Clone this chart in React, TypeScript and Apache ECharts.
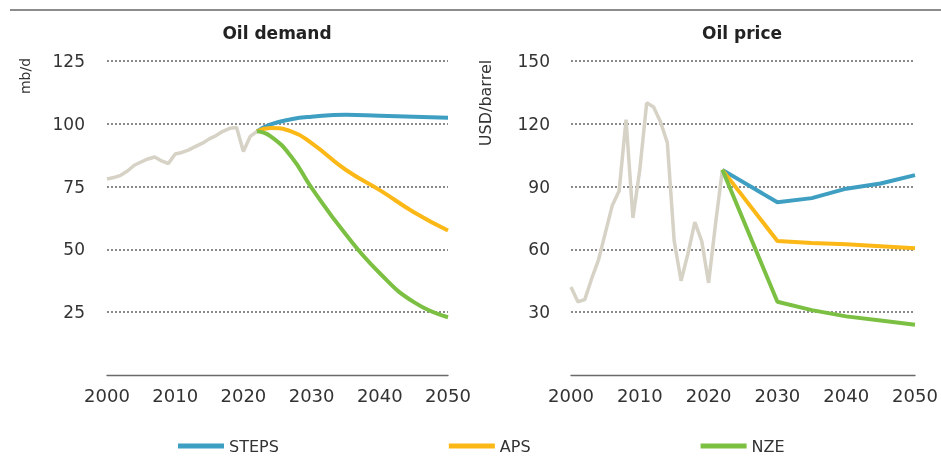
import React, { useEffect, useRef } from "react";
import * as echarts from "echarts";

const histYears = [2000, 2001, 2002, 2003, 2004, 2005, 2006, 2007, 2008, 2009, 2010, 2011, 2012, 2013, 2014, 2015, 2016, 2017, 2018, 2019, 2020, 2021, 2022];
const demandHist = [78, 78.6, 79.5, 81.2, 83.5, 84.8, 86, 86.8, 85.2, 84.2, 88, 88.6, 89.6, 91, 92.3, 94, 95.3, 97, 98.2, 98.5, 89, 95, 97];
const priceHist = [42, 35, 36, 46, 55, 68, 81, 88, 122, 75, 98, 130, 128, 121, 111, 64, 45, 58, 73, 64, 44, 72, 98];

const demandYears = [2022, 2024, 2027, 2030, 2035, 2040, 2045, 2050];
const demandSteps = [97, 99.8, 101.8, 102.8, 103.6, 103.2, 102.8, 102.4];
const demandAps = [97, 98.3, 97, 92.3, 81.7, 73.6, 64.8, 57.5];
const demandNze = [97, 95, 87, 74.5, 56, 40.5, 29, 23];

const priceYears = [2022, 2030, 2035, 2040, 2045, 2050];
const priceSteps = [98, 82.5, 84.5, 89, 91.5, 95.5];
const priceAps = [98, 64, 63, 62.5, 61.5, 60.5];
const priceNze = [98, 35, 31, 28, 26, 24];

const scenarioNames = ["STEPS", "APS", "NZE"];
const xTicks = { min: 2000, max: 2050, interval: 10 };
const demandAxis = { min: 0, max: 125, interval: 25 };
const priceAxis = { min: 0, max: 150, interval: 30 };

const COLORS = { STEPS: "#3f9fc2", APS: "#fbb817", NZE: "#7cc043", hist: "#d6d2c5" };
const FONT = "DejaVu Sans";
const TEXT = "#333333";
const GRID_DOT = "#8a8a8a";

const pairs = (xs: number[], ys: number[]) => xs.map((x, i) => [x, ys[i]]);

export default function App() {
  const ref = useRef<HTMLDivElement>(null);
  useEffect(() => {
    if (!ref.current) return;
    const chart = echarts.init(ref.current, undefined, { renderer: "svg" });

    const xAxisBase = (gridIndex: number) => ({
      type: "value",
      gridIndex,
      min: xTicks.min,
      max: xTicks.max,
      interval: xTicks.interval,
      axisLine: { show: true, lineStyle: { color: "#6a6a6a", width: 1.4 } },
      axisTick: { show: false },
      splitLine: { show: false },
      axisLabel: { color: TEXT, fontSize: 18, fontFamily: FONT, margin: 11, formatter: (v: number) => String(v) },
    });
    const yAxisBase = (gridIndex: number, ax: { min: number; max: number; interval: number }, margin: number) => ({
      type: "value",
      gridIndex,
      min: ax.min,
      max: ax.max,
      interval: ax.interval,
      axisLine: { show: false },
      axisTick: { show: false },
      splitLine: {
        show: true,
        lineStyle: { color: ["rgba(0,0,0,0)", GRID_DOT, GRID_DOT, GRID_DOT, GRID_DOT, GRID_DOT], width: 2, type: [2, 2] },
      },
      axisLabel: { color: TEXT, fontSize: 17, fontFamily: FONT, margin, showMinLabel: false },
    });

    const line = (name: string, data: number[][], idx: number, smooth: boolean, color: string, width: number) => ({
      name,
      type: "line",
      xAxisIndex: idx,
      yAxisIndex: idx,
      data,
      smooth,
      showSymbol: false,
      symbol: "none",
      lineStyle: { color, width },
      itemStyle: { color },
      z: name === "Historical" ? 1 : 2,
    });

    const option = {
      animation: false,
      textStyle: { fontFamily: FONT },
      grid: [
        { left: 107, right: 493, top: 61, bottom: 82 },
        { left: 571, right: 26, top: 61, bottom: 82 },
      ],
      xAxis: [xAxisBase(0), xAxisBase(1)],
      yAxis: [yAxisBase(0, demandAxis, 22), yAxisBase(1, priceAxis, 21)],
      legend: {
        data: scenarioNames.map((n) => ({ name: n, icon: "rect" })),
        left: 178,
        top: 438,
        padding: 0,
        itemGap: 170,
        itemWidth: 46,
        itemHeight: 5,
        textStyle: { color: TEXT, fontSize: 16, fontFamily: FONT },
      },
      graphic: [
        { type: "line", shape: { x1: 10, y1: 10, x2: 941, y2: 10 }, style: { stroke: "#8c8c8c", lineWidth: 2 } },
        { type: "text", x: 277, y: 33, style: { text: "Oil demand", fontSize: 17, fontWeight: "bold", fontFamily: FONT, fill: "#222", align: "center", verticalAlign: "middle" } },
        { type: "text", x: 742, y: 33, style: { text: "Oil price", fontSize: 17, fontWeight: "bold", fontFamily: FONT, fill: "#222", align: "center", verticalAlign: "middle" } },
        { type: "text", x: 25, y: 76, rotation: Math.PI / 2, style: { text: "mb/d", fontSize: 14, fontFamily: FONT, fill: TEXT, align: "center", verticalAlign: "middle" } },
        { type: "text", x: 485, y: 103, rotation: Math.PI / 2, style: { text: "USD/barrel", fontSize: 16, fontFamily: FONT, fill: TEXT, align: "center", verticalAlign: "middle" } },
      ],
      series: [
        line("Historical", pairs(histYears, demandHist), 0, false, COLORS.hist, 3.5),
        line("STEPS", pairs(demandYears, demandSteps), 0, true, COLORS.STEPS, 4),
        line("APS", pairs(demandYears, demandAps), 0, true, COLORS.APS, 4),
        line("NZE", pairs(demandYears, demandNze), 0, true, COLORS.NZE, 4),
        line("Historical", pairs(histYears, priceHist), 1, false, COLORS.hist, 3.5),
        line("STEPS", pairs(priceYears, priceSteps), 1, false, COLORS.STEPS, 4),
        line("APS", pairs(priceYears, priceAps), 1, false, COLORS.APS, 4),
        line("NZE", pairs(priceYears, priceNze), 1, false, COLORS.NZE, 4),
      ],
    };
    chart.setOption(option as any);
    return () => chart.dispose();
  }, []);
  return <div ref={ref} style={{ position: "fixed", left: 0, top: 0, width: 941, height: 457 }} />;
}
